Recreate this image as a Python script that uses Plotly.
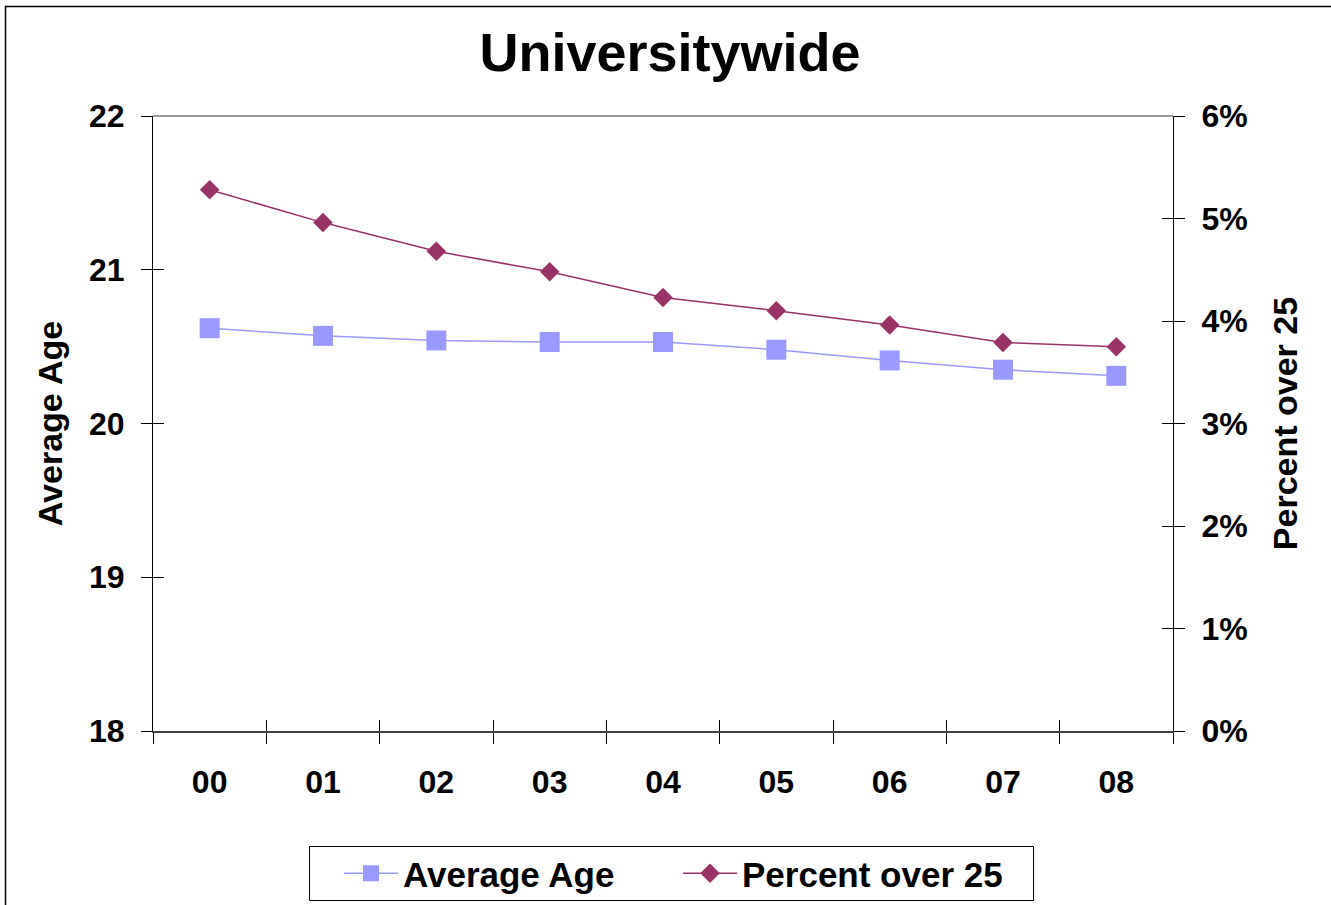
import plotly.graph_objects as go

years = ["00", "01", "02", "03", "04", "05", "06", "07", "08"]
average_age = [20.62, 20.57, 20.54, 20.53, 20.53, 20.48, 20.41, 20.35, 20.31]
percent_over_25 = [0.0528, 0.0496, 0.0468, 0.0448, 0.0423, 0.0410, 0.0396, 0.0379, 0.0375]

W, H = 1331, 905
L, R, T, B = 153, 1173, 116, 731
FONT = "Liberation Sans"
AGE_COLOR = "#9999FF"
PCT_COLOR = "#993366"

def px_x(p):
    return (p - L) / (R - L)

def px_y(p):
    return (B - p) / (B - T)

fig = go.Figure()
fig.add_trace(go.Scatter(
    x=years, y=average_age, name="Average Age", mode="lines+markers",
    line=dict(color=AGE_COLOR, width=1.5),
    marker=dict(symbol="square", size=20, color=AGE_COLOR),
    xaxis="x", yaxis="y"))
fig.add_trace(go.Scatter(
    x=years, y=percent_over_25, name="Percent over 25", mode="lines+markers",
    line=dict(color=PCT_COLOR, width=1.5),
    marker=dict(symbol="diamond", size=15, color=PCT_COLOR),
    xaxis="x", yaxis="y2"))
# transparent helper traces so the inner-tick overlay axes are drawn
fig.add_trace(go.Scatter(x=years, y=average_age, mode="lines",
                         line=dict(width=1, color="rgba(0,0,0,0)"),
                         showlegend=False, hoverinfo="skip",
                         xaxis="x2", yaxis="y3"))
fig.add_trace(go.Scatter(x=years, y=percent_over_25, mode="lines",
                         line=dict(width=1, color="rgba(0,0,0,0)"),
                         showlegend=False, hoverinfo="skip",
                         xaxis="x2", yaxis="y4"))

tickfont = dict(family=FONT, size=32, color="black", weight="bold")
titlefont = dict(family=FONT, size=34, color="black", weight="bold")

fig.update_layout(
    width=W, height=H,
    margin=dict(l=L, r=W - R, t=T, b=H - B, autoexpand=False),
    paper_bgcolor="white", plot_bgcolor="white",
    title=dict(text="Universitywide", x=px_x(670), xref="paper",
               xanchor="center", y=1 - 52 / H, yanchor="middle",
               font=dict(family=FONT, size=54, color="black", weight="bold")),
    showlegend=True,
    legend=dict(orientation="h", x=px_x(339), xanchor="left",
                y=px_y(844), yanchor="top",
                font=dict(family=FONT, size=35, color="black", weight="bold"),
                borderwidth=0, bgcolor="rgba(0,0,0,0)",
                itemwidth=54, entrywidth=270, traceorder="normal"),
    xaxis=dict(type="category", categoryorder="array", categoryarray=years,
               range=[-0.5, 8.5], tickson="boundaries",
               ticks="outside", ticklen=11, tickcolor="black", tickwidth=1,
               showline=True, linecolor="#404040", linewidth=2,
               showgrid=False, zeroline=False,
               tickfont=tickfont, ticklabelstandoff=22),
    xaxis2=dict(type="category", categoryorder="array", categoryarray=years,
                range=[-0.5, 8.5], tickson="boundaries", overlaying="x",
                anchor="y3", side="bottom",
                ticks="inside", ticklen=11, tickcolor="black", tickwidth=1,
                showticklabels=False, showline=False, showgrid=False,
                zeroline=False),
    yaxis=dict(range=[18, 22], dtick=1, tick0=18,
               ticks="outside", ticklen=11, tickcolor="black", tickwidth=1,
               showline=True, linecolor="black", linewidth=1,
               showgrid=False, zeroline=False,
               tickfont=tickfont, ticklabelstandoff=10,
               title=dict(text="Average Age", font=titlefont, standoff=16)),
    yaxis2=dict(range=[0, 0.06], dtick=0.01, tick0=0, tickformat=".0%",
                overlaying="y", side="right", anchor="x",
                ticks="outside", ticklen=11, tickcolor="black", tickwidth=1,
                showline=True, linecolor="black", linewidth=1,
                showgrid=False, zeroline=False,
                tickfont=tickfont, ticklabelstandoff=10,
                title=dict(text="Percent over 25", font=titlefont, standoff=26)),
    yaxis3=dict(range=[18, 22], dtick=1, tick0=18, overlaying="y", side="left",
                anchor="x2", ticks="inside", ticklen=11, tickcolor="black", tickwidth=1,
                showticklabels=False, showline=False, showgrid=False, zeroline=False),
    yaxis4=dict(range=[0, 0.06], dtick=0.01, tick0=0, overlaying="y", side="right",
                anchor="x2", ticks="inside", ticklen=11, tickcolor="black", tickwidth=1,
                showticklabels=False, showline=False, showgrid=False, zeroline=False),
    shapes=[
        # gray top edge of plot area
        dict(type="line", xref="paper", yref="paper", x0=0, x1=1, y0=1, y1=1,
             line=dict(color="#999999", width=2)),
        # outer chart border (left and top visible)
        dict(type="rect", xref="paper", yref="paper",
             x0=px_x(5.5), x1=px_x(1345), y0=px_y(6.5), y1=px_y(920),
             line=dict(color="black", width=1.5), layer="below"),
        # legend frame
        dict(type="rect", xref="paper", yref="paper",
             x0=px_x(309.5), x1=px_x(1033.5), y0=px_y(846.5), y1=px_y(900.5),
             line=dict(color="black", width=1), layer="below"),
    ],
)

fig.write_html("out.html", config={"displayModeBar": False},
               post_script="document.body.style.margin='0';")
